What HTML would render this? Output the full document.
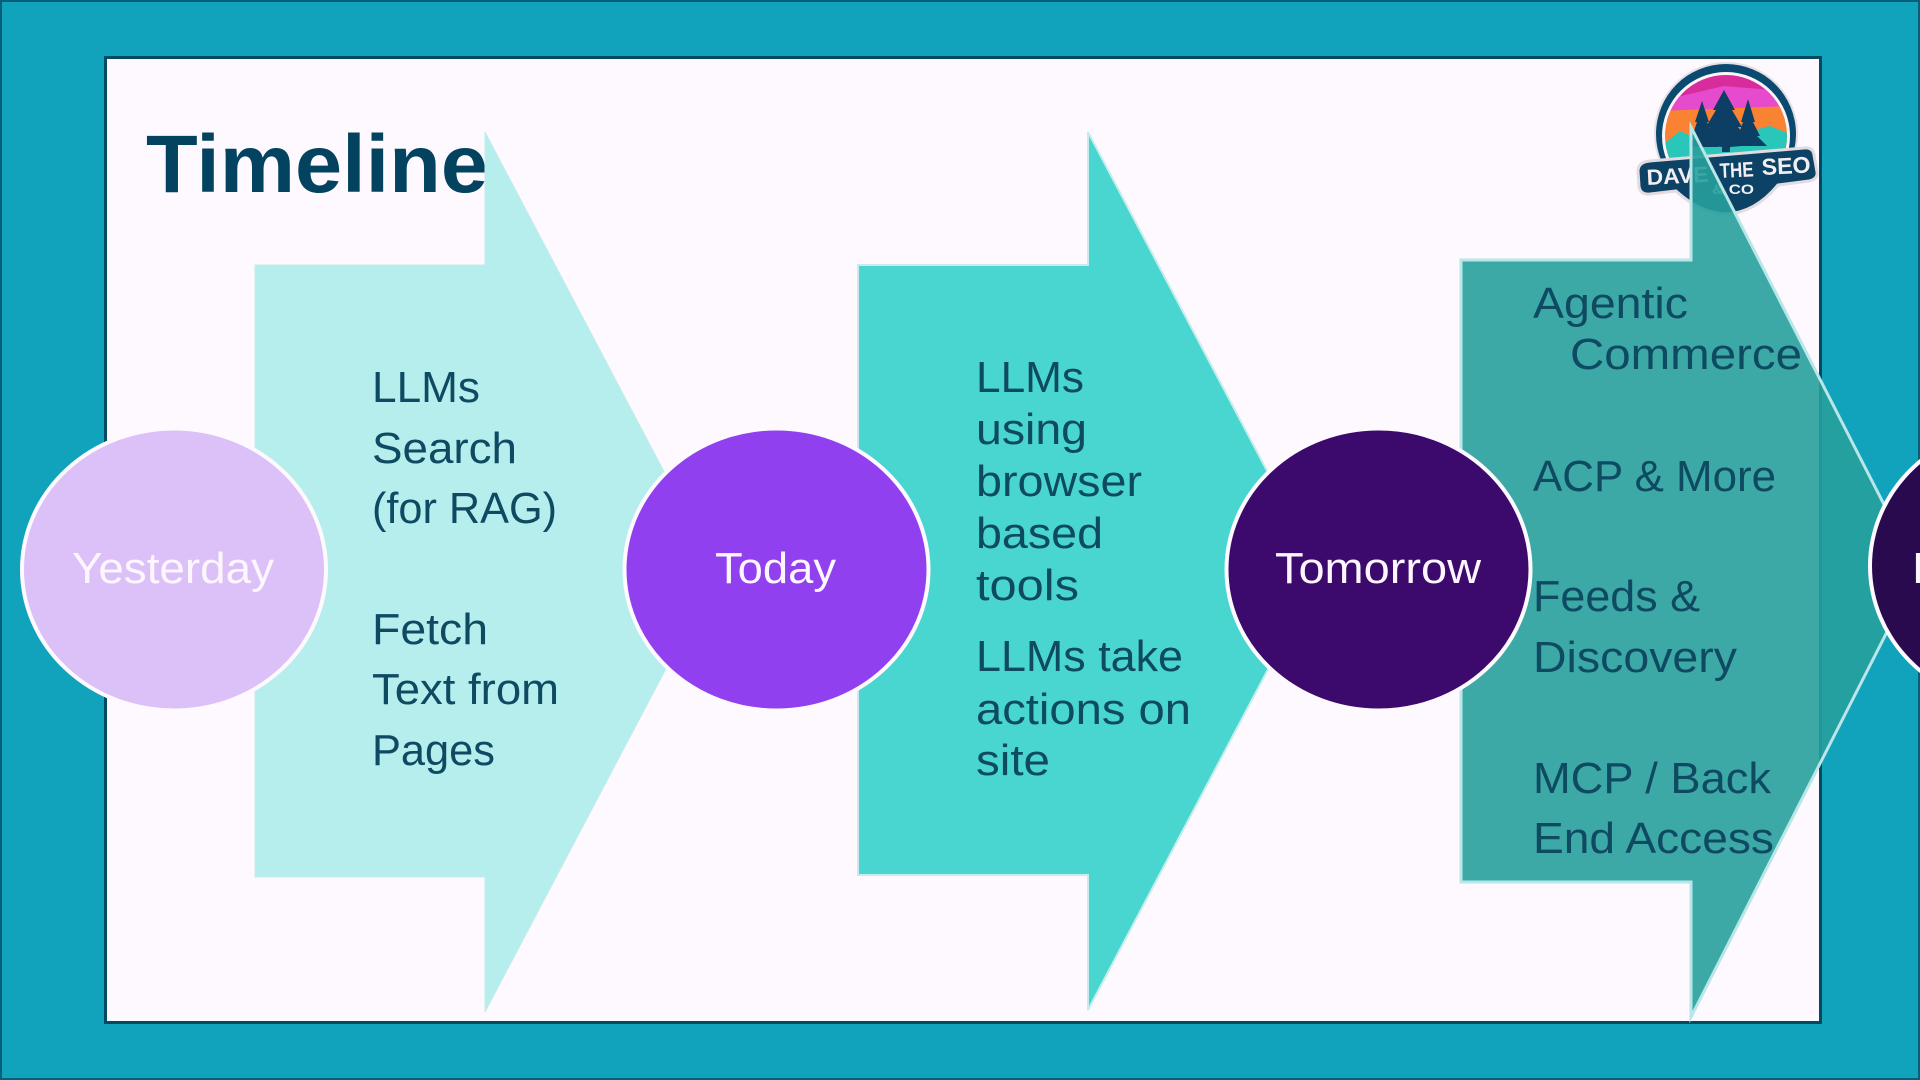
<!DOCTYPE html>
<html lang="en"><head><meta charset="utf-8"><title>Timeline</title>
<style>html,body{margin:0;padding:0;width:1920px;height:1080px;overflow:hidden;background:#11a3bc}svg{display:block}text{font-family:"Liberation Sans",Arial,sans-serif}</style></head>
<body>
<svg width="1920" height="1080" viewBox="0 0 1920 1080" xmlns="http://www.w3.org/2000/svg">
<defs><clipPath id="c"><circle cx="1726" cy="136" r="61"/></clipPath></defs>
<rect x="1" y="1" width="1918" height="1078" fill="#11a3bc" stroke="#045f78" stroke-width="2"/>
<rect x="105.5" y="57.5" width="1715" height="965" fill="#fdf9fe" stroke="#03495f" stroke-width="3"/>
<text x="146" y="192" font-size="82" font-weight="700" fill="#03435f" textLength="342" lengthAdjust="spacingAndGlyphs">Timeline</text>

<!-- logo -->
<g>
<circle cx="1726" cy="134" r="72" fill="#e6dfe4"/>
<circle cx="1726" cy="134" r="70" fill="#0b4a70"/>
<circle cx="1726" cy="136" r="64" fill="#fdf4f8"/>
<g clip-path="url(#c)">
<rect x="1660" y="70" width="132" height="40" fill="#d92c9c"/>
<path d="M1660 101L1724 86L1795 92V120H1660Z" fill="#e64bcd"/>
<path d="M1660 111L1790 106V160H1660Z" fill="#f98233"/>
<path d="M1660 147L1680 131L1705 142L1770 126L1795 136V200H1660Z" fill="#2bc6ba"/>
</g>
<path d="M1724 90L1735 110L1732 110L1742 127L1738 127L1750 143L1742 146L1730 147V152H1722V147L1710 146L1698 143L1710 127L1706 127L1716 110L1713 110Z" fill="#0c3f63"/>
<path d="M1702 101L1709 122L1707 122L1714 137L1711 137L1718 147H1690L1695 137L1692 137L1697 122L1695 122Z" fill="#0c3f63"/>
<path d="M1748 99L1755 122L1753 122L1760 136L1757 136L1767 146H1734L1740 136L1738 136L1743 122L1741 122Z" fill="#0c3f63"/>
<path d="M1650 161L1804 148Q1813 147 1814 155L1817 172Q1818 179 1809 181L1778 185Q1755 213 1726 214Q1700 213 1676 191L1650 194Q1640 195 1639 186L1638 171Q1638 162 1650 161Z" fill="#0b4266" stroke="#e3dbe0" stroke-width="3"/>
<text x="1647" y="185" font-size="22" font-weight="700" fill="#f3eef0" textLength="62" lengthAdjust="spacingAndGlyphs" transform="rotate(-3 1647 185)">DAVE</text>
<text x="1720" y="178" font-size="21" font-weight="700" fill="#f3eef0" textLength="34" lengthAdjust="spacingAndGlyphs" transform="rotate(-3 1720 178)">THE</text>
<text x="1762" y="175" font-size="23" font-weight="700" fill="#f3eef0" textLength="49" lengthAdjust="spacingAndGlyphs" transform="rotate(-3 1762 175)">SEO</text>
<text x="1712" y="194" font-size="14" font-weight="700" fill="#f3eef0" textLength="42" lengthAdjust="spacingAndGlyphs">&amp;  CO</text>
</g>

<!-- arrows -->
<polygon points="255,265 485,265 485,132 717,572 485,1012 485,877 255,877" fill="#b5eeec" stroke="#c5ecec" stroke-width="1"/>
<polygon points="858,265 1088,265 1088,132 1320,571 1088,1010 1088,875 858,875" fill="#4ad6d0" stroke="#c8ecec" stroke-width="2"/>
<polygon points="1461,260 1691,260 1691,127 1918,571 1691,1017 1691,882 1461,882" fill="#27a09c" fill-opacity=".9" stroke="#b9e6e8" stroke-width="3" stroke-miterlimit="10"/>

<!-- circles -->
<ellipse cx="174" cy="569.500" rx="152" ry="141" fill="#dcc0f8" stroke="#fdf9fe" stroke-width="4"/>
<ellipse cx="776.500" cy="569.500" rx="152" ry="141" fill="#9140f0" stroke="#fdf9fe" stroke-width="4"/>
<ellipse cx="1378.500" cy="569.500" rx="152" ry="141" fill="#3c0a6c" stroke="#fdf9fe" stroke-width="4"/>
<ellipse cx="2022" cy="566" rx="152" ry="141" fill="#2a0a4e" stroke="#fdf9fe" stroke-width="4"/>

<g font-size="44" fill="#fdf6ff">
<text x="72" y="583" textLength="202" lengthAdjust="spacingAndGlyphs">Yesterday</text>
<text x="715" y="583" textLength="121" lengthAdjust="spacingAndGlyphs">Today</text>
<text x="1275" y="583" textLength="206" lengthAdjust="spacingAndGlyphs">Tomorrow</text>
<text x="1913" y="583" font-weight="700">D</text>
</g>

<g font-size="44" fill="#0f4a63">
<text x="372" y="402" textLength="108" lengthAdjust="spacingAndGlyphs">LLMs</text>
<text x="372" y="463" textLength="145" lengthAdjust="spacingAndGlyphs">Search</text>
<text x="372" y="523" textLength="185" lengthAdjust="spacingAndGlyphs">(for RAG)</text>
<text x="372" y="644" textLength="116" lengthAdjust="spacingAndGlyphs">Fetch</text>
<text x="372" y="704" textLength="187" lengthAdjust="spacingAndGlyphs">Text from</text>
<text x="372" y="765" textLength="123" lengthAdjust="spacingAndGlyphs">Pages</text>

<text x="976" y="392" textLength="108" lengthAdjust="spacingAndGlyphs">LLMs</text>
<text x="976" y="444" textLength="111" lengthAdjust="spacingAndGlyphs">using</text>
<text x="976" y="496" textLength="166" lengthAdjust="spacingAndGlyphs">browser</text>
<text x="976" y="548" textLength="127" lengthAdjust="spacingAndGlyphs">based</text>
<text x="976" y="600" textLength="103" lengthAdjust="spacingAndGlyphs">tools</text>
<text x="976" y="671" textLength="207" lengthAdjust="spacingAndGlyphs">LLMs take</text>
<text x="976" y="724" textLength="215" lengthAdjust="spacingAndGlyphs">actions on</text>
<text x="976" y="775" textLength="74" lengthAdjust="spacingAndGlyphs">site</text>

<text x="1533" y="318" textLength="155" lengthAdjust="spacingAndGlyphs">Agentic</text>
<text x="1570" y="369" textLength="232" lengthAdjust="spacingAndGlyphs">Commerce</text>
<text x="1533" y="491" textLength="243" lengthAdjust="spacingAndGlyphs">ACP &amp; More</text>
<text x="1533" y="611" textLength="167" lengthAdjust="spacingAndGlyphs">Feeds &amp;</text>
<text x="1533" y="672" textLength="204" lengthAdjust="spacingAndGlyphs">Discovery</text>
<text x="1533" y="793" textLength="238" lengthAdjust="spacingAndGlyphs">MCP / Back</text>
<text x="1533" y="853" textLength="241" lengthAdjust="spacingAndGlyphs">End Access</text>
</g>
</svg>
</body></html>
